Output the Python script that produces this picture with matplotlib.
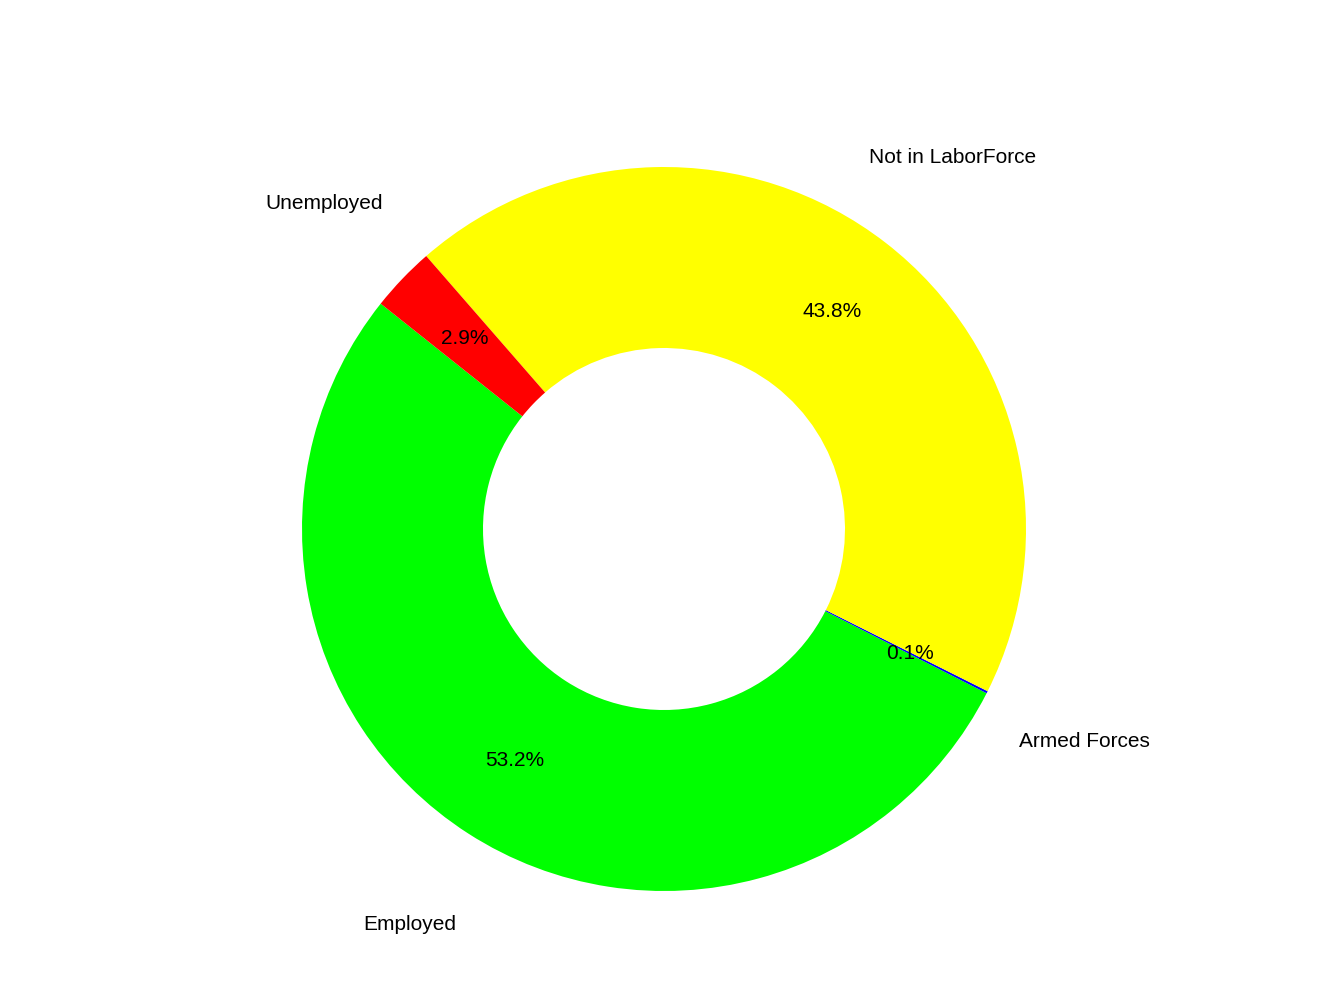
import matplotlib
matplotlib.use("Agg")
import matplotlib.pyplot as plt

labels = ["Employed", "Armed Forces", "Not in LaborForce", "Unemployed"]
shares = [53.2, 0.1, 43.8, 2.9]
colors = ["#00ff00", "#0000ff", "#ffff00", "#ff0000"]

fig = plt.figure(figsize=(13.44, 10.08), dpi=100)
R = 362
half = 1.35 * R
cx, cy = 664, 1008 - 529
ax = fig.add_axes([(cx - half) / 1344, (cy - half) / 1008, 2 * half / 1344, 2 * half / 1008])

wedges, texts, autotexts = ax.pie(
    shares, labels=labels, colors=colors, startangle=141.5, counterclock=True,
    autopct="%1.1f%%", pctdistance=0.76, labeldistance=1.3,
    wedgeprops=dict(width=0.5, linewidth=0),
    textprops=dict(fontsize=15, fontfamily="Liberation Sans"))
for t in texts + autotexts:
    t.set_ha("center")
    t.set_va("center")
ax.set_xlim(-1.35, 1.35)
ax.set_ylim(-1.35, 1.35)
ax.set_aspect("equal")
ax.axis("off")
fig.savefig("out.png", dpi=100)
